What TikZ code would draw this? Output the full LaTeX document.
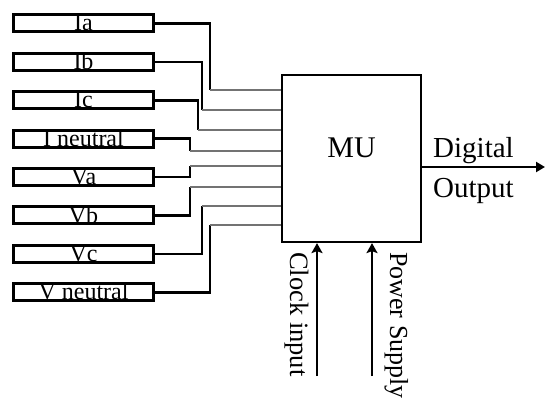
\documentclass[tikz,border=0pt]{standalone}
\usepackage{fontspec}
\setmainfont{Liberation Serif}
\usetikzlibrary{arrows.meta}
\begin{document}
\begin{tikzpicture}[x=1pt,y=-1pt,
  inbox/.style={draw,line width=3pt,minimum width=140pt,minimum height=17pt,
    inner xsep=0pt,inner ysep=0pt,text height=15pt,text depth=0pt,
    font=\fontsize{24}{26}\selectfont},
  feed/.style={line width=2.5pt},
  port/.style={line width=1.4pt,black!55},
  bigarrow/.style={line width=2.8pt,-{Stealth[length=10pt,width=11pt,inset=2pt]}},
  txt/.style={inner sep=0pt}]
\useasboundingbox (0,0) rectangle (550,412);
% input boxes
\node[inbox] (ia) at (83.5,23.5) {Ia};
\node[inbox] (ib) at (83.5,61.9) {Ib};
\node[inbox] (ic) at (83.5,100.3) {Ic};
\node[inbox] (in) at (83.5,138.7) {I neutral};
\node[inbox] (va) at (83.5,177.1) {Va};
\node[inbox] (vb) at (83.5,215.5) {Vb};
\node[inbox] (vc) at (83.5,253.9) {Vc};
\node[inbox] (vn) at (83.5,292.3) {V neutral};
% MU box
\node[draw,line width=2.2pt,minimum width=139pt,minimum height=167pt,inner sep=0pt] (mu) at (351.5,158.5) {};
\node[txt,anchor=base,font=\fontsize{30}{32}\selectfont] (mut) at (351.5,158) {MU};
% ports on MU
\coordinate (p1) at (mu.west |- 0,90);
\coordinate (p2) at (mu.west |- 0,110);
\coordinate (p3) at (mu.west |- 0,130);
\coordinate (p4) at (mu.west |- 0,151);
\coordinate (p5) at (mu.west |- 0,166);
\coordinate (p6) at (mu.west |- 0,187);
\coordinate (p7) at (mu.west |- 0,206);
\coordinate (p8) at (mu.west |- 0,225);
% connectors
\coordinate (c1) at (210,90);  \draw[feed] (ia.east) -| (c1); \draw[port] (c1) -- (p1);
\coordinate (c2) at (202,110); \draw[feed] (ib.east) -| (c2); \draw[port] (c2) -- (p2);
\coordinate (c3) at (198,130); \draw[feed] (ic.east) -| (c3); \draw[port] (c3) -- (p3);
\coordinate (c4) at (190,151); \draw[feed] (in.east) -| (c4); \draw[port] (c4) -- (p4);
\coordinate (c5) at (190,166); \draw[feed] (va.east) -| (c5); \draw[port] (c5) -- (p5);
\coordinate (c6) at (190,187); \draw[feed] (vb.east) -| (c6); \draw[port] (c6) -- (p6);
\coordinate (c7) at (202,206); \draw[feed] (vc.east) -| (c7); \draw[port] (c7) -- (p7);
\coordinate (c8) at (210,225); \draw[feed] (vn.east) -| (c8); \draw[port] (c8) -- (p8);
% digital output
\coordinate (dout) at (545,167);
\draw[line width=2.2pt,-{Triangle[length=9pt,width=10pt]}] (mu.east |- dout) -- (dout);
\node[txt,anchor=base west,font=\fontsize{29}{31}\selectfont] (dig) at (433,158) {Digital};
\node[txt,anchor=base west,font=\fontsize{29}{31}\selectfont] (outp) at (433,197) {Output};
% clock and power
\coordinate (ck) at (317,376);
\coordinate (pw) at (372,376);
\draw[bigarrow] (ck) -- (ck |- mu.south);
\draw[bigarrow] (pw) -- (pw |- mu.south);
\node[txt,anchor=base west,rotate=-90,font=\fontsize{26.5}{28}\selectfont] (ckt) at (290,252) {Clock input};
\node[txt,anchor=base west,rotate=-90,font=\fontsize{26}{28}\selectfont] (pwt) at (390,252) {Power Supply};
\end{tikzpicture}
\end{document}
